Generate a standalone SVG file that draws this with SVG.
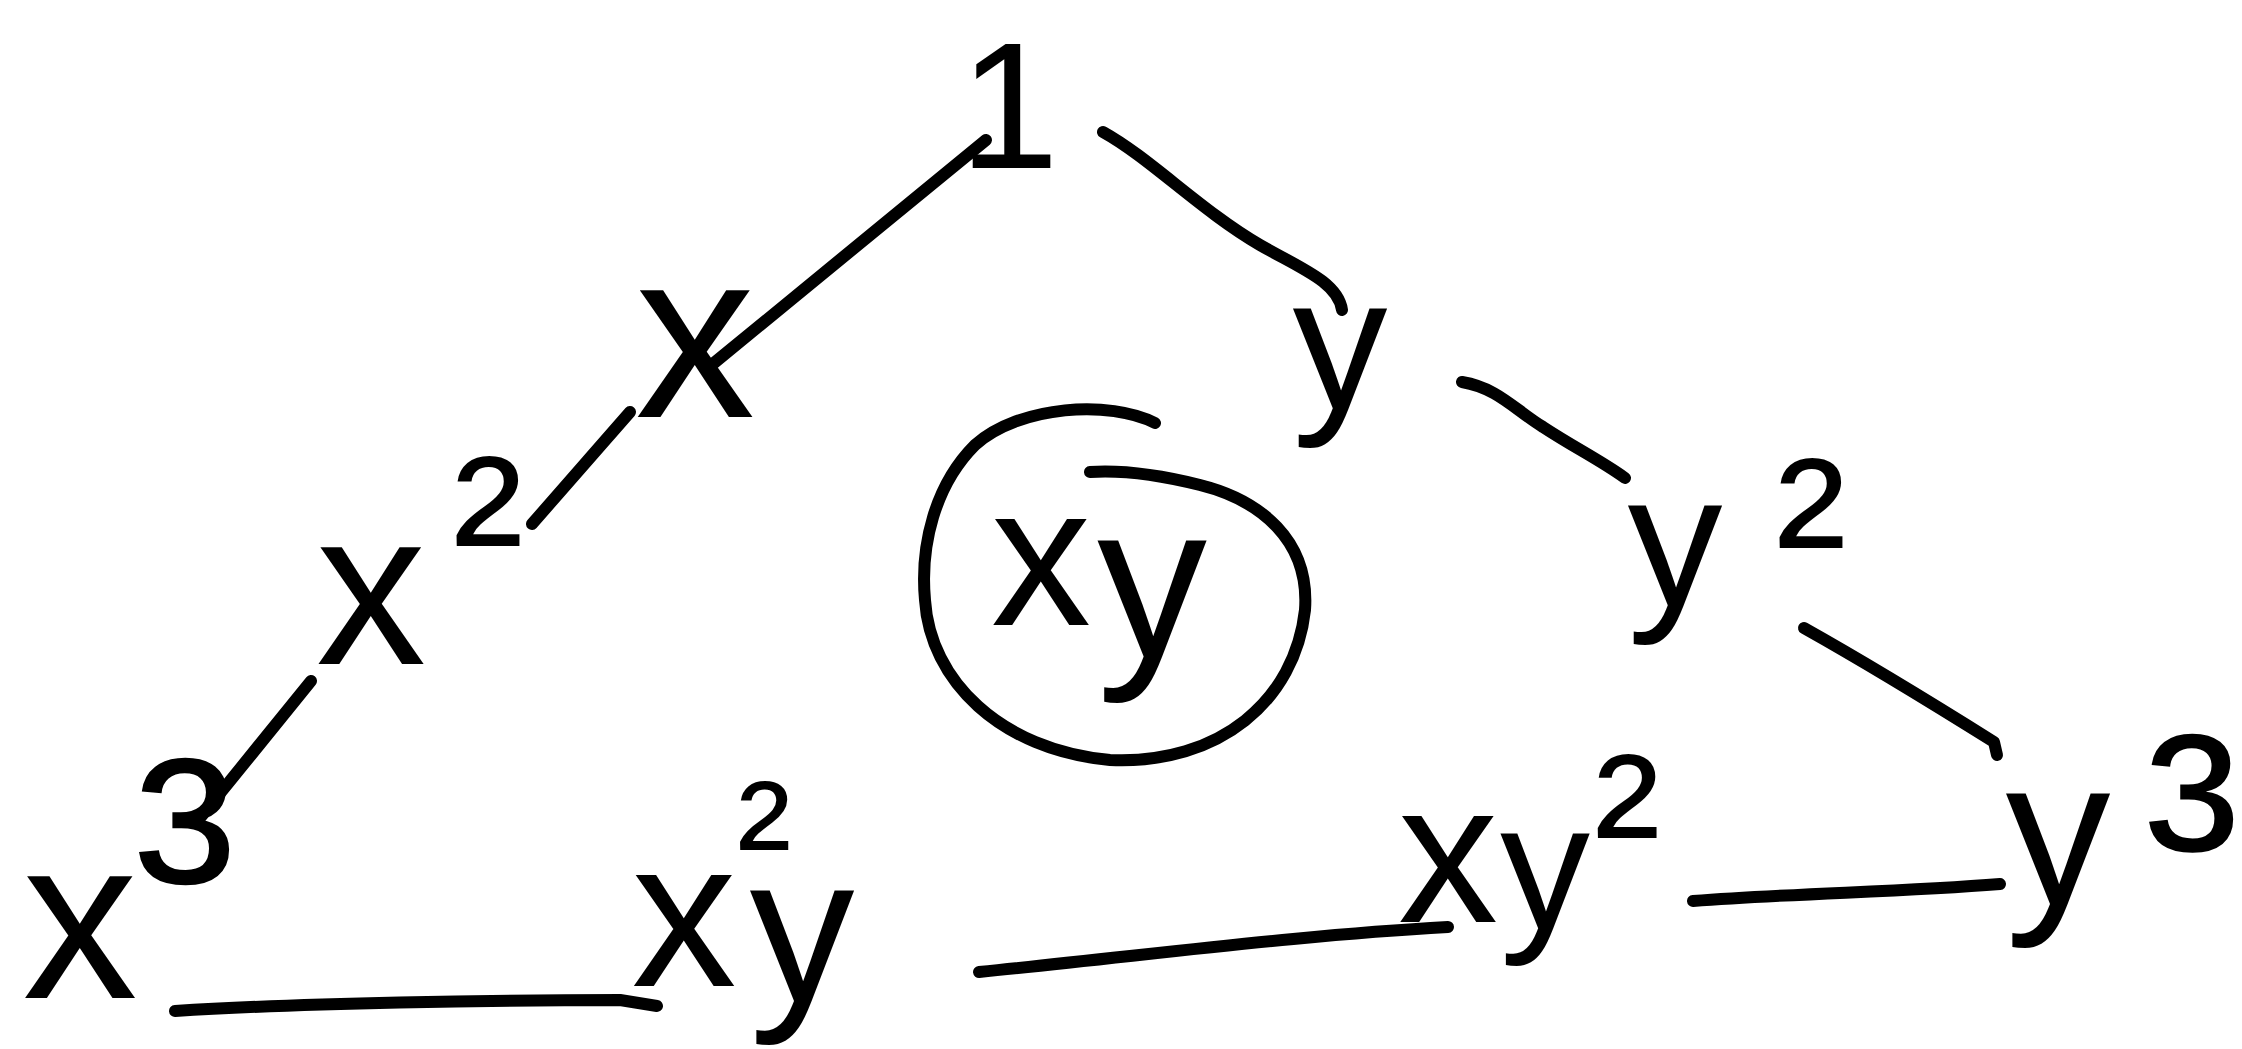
<svg xmlns="http://www.w3.org/2000/svg" width="2242" height="1049" viewBox="0 0 2242 1049">
<style>
.lbl{font-family:"Liberation Sans","DejaVu Sans",sans-serif;fill:#000;text-anchor:middle}
.edge{fill:none;stroke:#000;stroke-width:12;stroke-linecap:round;stroke-linejoin:round}
</style>
<rect width="2242" height="1049" fill="#fff"/>
<g id="connectors">
<path class="edge" d="M986,140 L714,363"/>
<path class="edge" d="M1103,132 C1150,158 1200,210 1260,245 C1300,268 1338,282 1342,310"/>
<path class="edge" d="M630,412 L532,524"/>
<path class="edge" d="M311,681 L200,818"/>
<path class="edge" d="M1462,382 C1498,388 1515,410 1543,427 C1575,448 1600,460 1625,478"/>
<path class="edge" d="M1804,628 C1870,665 1935,705 1994,742 L1997,755"/>
<path class="edge" d="M175,1011 C300,1003 500,1000 620,1000 L657,1006"/>
<path class="edge" d="M979,972 C1150,955 1300,935 1448,927"/>
<path class="edge" d="M1693,901 C1800,893 1900,892 2000,884"/>
</g>
<g id="n-1"><text class="lbl" x="1009" y="168" font-size="180">1</text></g>
<g id="n-x"><text class="lbl" x="695" y="417" font-size="240">x</text></g>
<g id="n-y"><text class="lbl" x="1340" y="409" font-size="190">y</text></g>
<g id="n-x2"><text class="lbl"><tspan x="371" y="664" font-size="220">x</tspan><tspan x="488" y="605" font-size="214">²</tspan></text></g>
<g id="n-xy">
<path class="edge" d="M1155,423 C1110,400 1020,405 975,445 C935,485 920,545 925,600 C930,680 1000,750 1110,760 C1220,765 1295,700 1305,610 C1310,540 1260,500 1200,485 C1160,475 1120,470 1090,472"/>
<text class="lbl"><tspan x="1041" y="625" font-size="200">x</tspan><tspan x="1152" y="657" font-size="220">y</tspan></text>
</g>
<g id="n-y2"><text class="lbl"><tspan x="1675" y="606" font-size="190">y</tspan><tspan x="1811" y="607" font-size="214">²</tspan></text></g>
<g id="n-x3"><text class="lbl"><tspan x="80" y="998" font-size="230">x</tspan><tspan x="185" y="966" font-size="300">³</tspan></text></g>
<g id="n-x2y"><text class="lbl"><tspan x="684" y="986" font-size="210">x</tspan><tspan x="764" y="895" font-size="164">²</tspan><tspan x="802" y="1001" font-size="210">y</tspan></text></g>
<g id="n-xy2"><text class="lbl"><tspan x="1448" y="922" font-size="200">x</tspan><tspan x="1545" y="929" font-size="180">y</tspan><tspan x="1627" y="893" font-size="200">²</tspan></text></g>
<g id="n-y3"><text class="lbl"><tspan x="2058" y="904" font-size="210">y</tspan><tspan x="2192" y="928" font-size="280">³</tspan></text></g>
</svg>
